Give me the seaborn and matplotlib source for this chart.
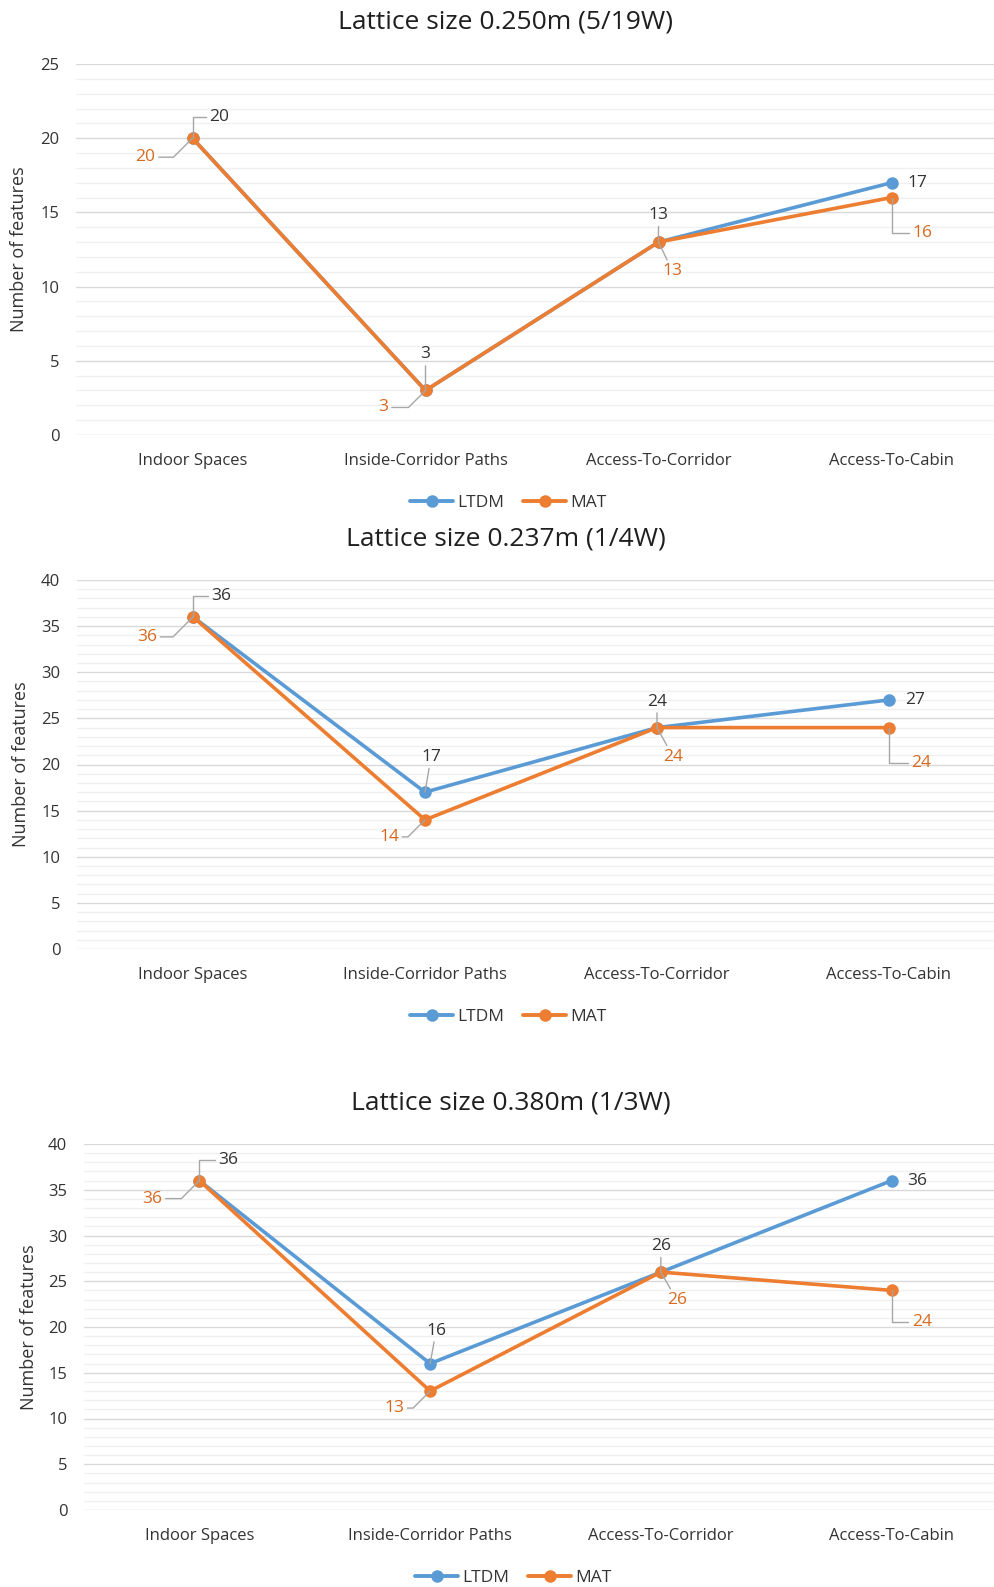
import numpy as np
import pandas as pd
import matplotlib
matplotlib.use("Agg")
import matplotlib.pyplot as plt
from matplotlib.lines import Line2D
from matplotlib.ticker import MultipleLocator
import seaborn as sns

# ---- data -----------------------------------------------------------------
categories = ["Indoor Spaces", "Inside-Corridor Paths", "Access-To-Corridor", "Access-To-Cabin"]
series_names = ["LTDM", "MAT"]
titles = ["Lattice size 0.250m (5/19W)", "Lattice size 0.237m (1/4W)", "Lattice size 0.380m (1/3W)"]

ltdm_0250 = [20, 3, 13, 17]
mat_0250 = [20, 3, 13, 16]
ltdm_0237 = [36, 17, 24, 27]
mat_0237 = [36, 14, 24, 24]
ltdm_0380 = [36, 16, 26, 36]
mat_0380 = [36, 13, 26, 24]

y_max = [25, 40, 40]
panel_values = [(ltdm_0250, mat_0250), (ltdm_0237, mat_0237), (ltdm_0380, mat_0380)]

# ---- styling --------------------------------------------------------------
sns.set_theme(style="white")
plt.rcParams["font.family"] = ["Open Sans", "DejaVu Sans"]

W, H = 994, 1587
palette = {"LTDM": "#5B9BD5", "MAT": "#ED7D31"}
label_colors = {"LTDM": "#333333", "MAT": "#D9691F"}
leader_color = "#A6A6A6"
text_color = "#333333"

# axes boxes in pixels: left, right, top, bottom (plot area runs past the right edge)
boxes = [(76, 1008, 64, 435), (77, 1005, 580, 949), (84, 1007, 1144, 1510)]
title_pos = [(505, 22), (506, 539), (511, 1103)]
ylabel_x = [19, 21, 29]
legend_pos = [(508, 503), (508, 1017), (513, 1578)]

# data-label placement: (dx, dy) in pixels from the marker, and leader kind
label_layout = [
    {"LTDM": [(27, 21, "elbow_v"), (0, 36, "line"), (0, 27, "line"), (26, 0, None)],
     "MAT": [(-47, -19, "elbow_d"), (-42, -17, "elbow_d"), (14, -29, "line"), (31, -35, "elbow_v")]},
    {"LTDM": [(28, 21, "elbow_v"), (6, 35, "line"), (0, 26, "line"), (26, 0, None)],
     "MAT": [(-46, -20, "elbow_d"), (-36, -17, "elbow_d"), (16, -29, "line"), (32, -35, "elbow_v")]},
    {"LTDM": [(29, 21, "elbow_v"), (6, 33, "line"), (0, 26, "line"), (26, 0, None)],
     "MAT": [(-47, -18, "elbow_d"), (-36, -17, "elbow_d"), (16, -28, "line"), (30, -32, "elbow_v")]},
]

connections = {
    "line": "arc3,rad=0",
    "elbow_v": "angle,angleA=0,angleB=90,rad=0",
    "elbow_d": "angle,angleA=0,angleB=45,rad=0",
}

fig = plt.figure(figsize=(W / 100, H / 100), dpi=100)
fig.patch.set_facecolor("white")

for i, (ltdm, mat) in enumerate(panel_values):
    l, r, t, b = boxes[i]
    ax = fig.add_axes([l / W, (H - b) / H, (r - l) / W, (b - t) / H])

    df = pd.DataFrame({
        "category": categories * 2,
        "value": list(ltdm) + list(mat),
        "method": ["LTDM"] * len(categories) + ["MAT"] * len(categories),
    })

    ax.yaxis.set_major_locator(MultipleLocator(5))
    ax.yaxis.set_minor_locator(MultipleLocator(1))
    ax.grid(True, which="major", axis="y", color="#D9D9D9", linewidth=1.0)
    ax.grid(True, which="minor", axis="y", color="#F0F0F0", linewidth=1.0)
    ax.grid(False, axis="x")
    ax.set_axisbelow(True)

    sns.lineplot(data=df, x="category", y="value", hue="method", hue_order=series_names,
                 palette=palette, marker="o", markersize=9, markeredgewidth=0,
                 linewidth=2.6, sort=False, legend=False, ax=ax)

    ax.set_xlim(-0.5, len(categories) - 0.5)
    ax.set_ylim(0, y_max[i])
    for s in ax.spines.values():
        s.set_visible(False)
    ax.set_xlabel("")
    ax.set_ylabel("")
    ax.tick_params(axis="both", which="both", length=0, labelsize=12, labelcolor=text_color)
    ax.tick_params(axis="x", pad=13)
    ax.tick_params(axis="y", pad=12)

    # data labels with leader lines
    for name, vals in zip(series_names, (ltdm, mat)):
        for j, v in enumerate(vals):
            dx, dy, kind = label_layout[i][name][j]
            kw = {}
            if kind is not None:
                kw["arrowprops"] = dict(arrowstyle="-", color=leader_color, lw=1.0,
                                        shrinkA=0, shrinkB=0,
                                        connectionstyle=connections[kind])
            ax.annotate(str(v), xy=(j, v), xytext=(dx, dy), textcoords="offset pixels",
                        ha="center", va="center", fontsize=12.5,
                        color=label_colors[name], **kw)

    tx, ty = title_pos[i]
    fig.text(tx / W, 1 - ty / H, titles[i], ha="center", va="center",
             fontsize=19, color="#1F1F1F")
    fig.text(ylabel_x[i] / W, 1 - ((t + b) / 2) / H, "Number of features",
             rotation=90, ha="center", va="center", fontsize=13, color=text_color)

    handles = [Line2D([0], [0], color=palette[n], lw=2.8, marker="o", markersize=9,
                      markeredgewidth=0) for n in series_names]
    lx, ly = legend_pos[i]
    ax.legend(handles, series_names, loc="center", bbox_to_anchor=(lx / W, 1 - ly / H),
              bbox_transform=fig.transFigure, ncol=2, frameon=False, fontsize=12.5,
              handlelength=2.5, handletextpad=0.2, columnspacing=1.1,
              labelcolor=text_color)

fig.savefig("out.png", dpi=100, facecolor="white")
